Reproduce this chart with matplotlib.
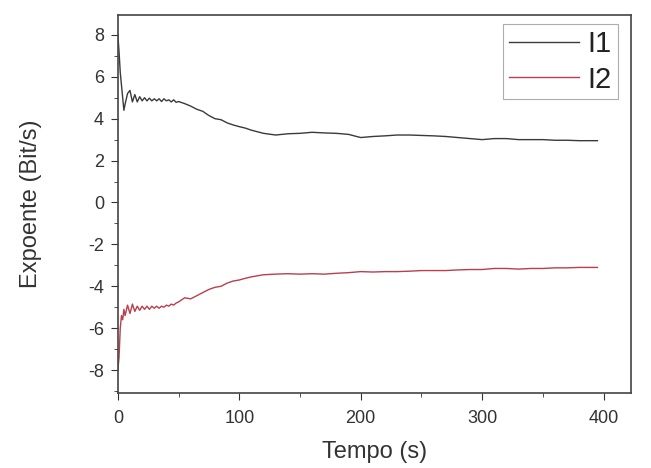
import numpy as np
import matplotlib
matplotlib.use("Agg")
import matplotlib.pyplot as plt
from matplotlib.ticker import MultipleLocator

plt.rcParams['font.family'] = ['Liberation Sans', 'DejaVu Sans']
plt.rcParams['axes.unicode_minus'] = False

# I1 (upper curve)
t1 = [0, 1, 2, 3, 4, 5, 6, 8, 10, 12, 14, 16, 18, 20, 22, 24, 26, 28, 30, 32,
      34, 36, 38, 40, 42, 44, 46, 48, 50, 55, 60, 65, 70, 75, 80, 85, 90, 95,
      100, 105, 110, 120, 130, 140, 150, 160, 170, 180, 190, 200, 210, 220,
      230, 240, 250, 260, 270, 280, 290, 300, 310, 320, 330, 340, 350, 360,
      370, 380, 395]
i1 = [8.0, 7.2, 6.2, 5.6, 5.0, 4.4, 4.7, 5.2, 5.35, 4.8, 5.15, 4.8, 5.05, 4.85,
      5.0, 4.85, 4.98, 4.85, 4.95, 4.85, 4.95, 4.82, 4.95, 4.85, 4.9, 4.8,
      4.9, 4.78, 4.82, 4.72, 4.6, 4.45, 4.35, 4.15, 4.0, 3.95, 3.8, 3.7,
      3.62, 3.55, 3.45, 3.3, 3.22, 3.28, 3.3, 3.35, 3.32, 3.3, 3.25, 3.1,
      3.15, 3.18, 3.22, 3.22, 3.2, 3.18, 3.15, 3.1, 3.05, 3.0, 3.05, 3.05,
      3.0, 3.0, 3.0, 2.97, 2.97, 2.95, 2.95]

# I2 (lower curve)
t2 = [0, 1, 2, 3, 4, 5, 6, 8, 10, 12, 14, 16, 18, 20, 22, 24, 26, 28, 30, 32,
      34, 36, 38, 40, 42, 44, 46, 48, 50, 55, 60, 65, 70, 75, 80, 85, 90, 95,
      100, 105, 110, 120, 130, 140, 150, 160, 170, 180, 190, 200, 210, 220,
      230, 240, 250, 260, 270, 280, 290, 300, 310, 320, 330, 340, 350, 360,
      370, 380, 395]
i2 = [-8.0, -7.4, -6.0, -5.4, -5.6, -5.1, -5.4, -4.9, -5.3, -4.85, -5.2, -4.95,
      -5.15, -4.95, -5.1, -4.95, -5.1, -4.95, -5.05, -4.95, -5.05, -4.95,
      -5.0, -4.9, -4.95, -4.85, -4.9, -4.8, -4.75, -4.55, -4.6, -4.45, -4.3,
      -4.15, -4.05, -4.0, -3.85, -3.75, -3.7, -3.62, -3.55, -3.45, -3.42,
      -3.4, -3.42, -3.4, -3.42, -3.38, -3.35, -3.3, -3.32, -3.3, -3.3, -3.28,
      -3.25, -3.25, -3.25, -3.22, -3.2, -3.2, -3.15, -3.15, -3.18, -3.15,
      -3.15, -3.12, -3.12, -3.1, -3.1]

fig = plt.figure(figsize=(6.51, 4.68), dpi=100)
ax = fig.add_axes([0.181, 0.160, 0.789, 0.808])

ax.plot(t1, i1, color='#3a3a3a', lw=1.0, label='I1')
ax.plot(t2, i2, color='#b8404c', lw=1.0, label='I2')

ax.set_xlim(0, 423)
ax.set_ylim(-9.1, 8.95)
ax.xaxis.set_major_locator(MultipleLocator(100))
ax.xaxis.set_minor_locator(MultipleLocator(50))
ax.yaxis.set_major_locator(MultipleLocator(2))
ax.yaxis.set_minor_locator(MultipleLocator(1))
ax.tick_params(which='major', direction='out', length=5, labelsize=13,
               top=False, right=False, color='#333333', labelcolor='#333333')
ax.tick_params(axis='x', which='major', pad=7)
ax.tick_params(axis='y', which='major', pad=5)
ax.tick_params(which='minor', direction='out', length=3, top=False, right=False,
               color='#333333')
for s in ax.spines.values():
    s.set_color('#444444')
    s.set_linewidth(1.2)

ax.set_xlabel('Tempo (s)', fontsize=17, color='#333333', labelpad=10)
ax.set_ylabel('Expoente (Bit/s)', fontsize=17, color='#333333', labelpad=33)

leg = ax.legend(loc='upper right', bbox_to_anchor=(0.973, 0.975), fontsize=21,
                frameon=True, fancybox=False, handlelength=2.4,
                borderpad=0.2, labelspacing=0.25, handletextpad=0.3,
                borderaxespad=0)
leg.get_frame().set_edgecolor('#999999')
leg.get_frame().set_linewidth(0.8)
for txt in leg.get_texts():
    txt.set_color('#222222')

fig.savefig('out.png', dpi=100)
